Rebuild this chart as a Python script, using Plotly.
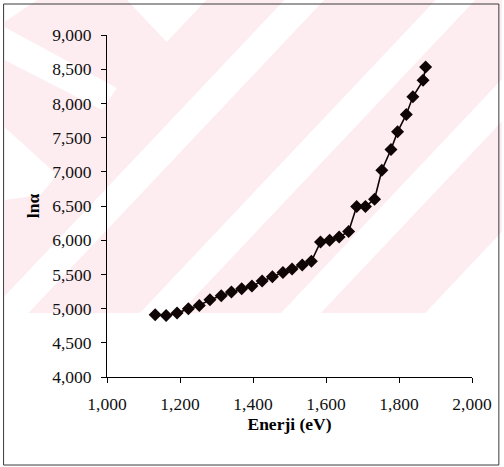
import plotly.graph_objects as go

# Data
energy = [1.132, 1.162, 1.192, 1.223, 1.253, 1.282, 1.313, 1.341, 1.369, 1.397,
          1.425, 1.453, 1.482, 1.507, 1.535, 1.560, 1.585, 1.610, 1.636, 1.662,
          1.684, 1.708, 1.733, 1.753, 1.778, 1.796, 1.820, 1.838, 1.866, 1.873]
ln_alpha = [4.911, 4.900, 4.934, 4.998, 5.047, 5.130, 5.189, 5.242, 5.291, 5.330,
            5.403, 5.467, 5.526, 5.578, 5.637, 5.691, 5.974, 5.999, 6.047, 6.126,
            6.492, 6.492, 6.599, 7.023, 7.326, 7.584, 7.839, 8.097, 8.337, 8.531]

x_ticks = [1.0, 1.2, 1.4, 1.6, 1.8, 2.0]
y_ticks = [4.0, 4.5, 5.0, 5.5, 6.0, 6.5, 7.0, 7.5, 8.0, 8.5, 9.0]

W, H = 504, 467
L, R, T, B = 107, 30, 35, 90
PW, PH = W - L - R, H - T - B


def px(x, y):
    return (x - L) / PW, (H - B - y) / PH


def path(points):
    parts = []
    for i, (x, y) in enumerate(points):
        xp, yp = px(x, y)
        parts.append(("M" if i == 0 else "L") + f"{xp:.4f},{yp:.4f}")
    return " ".join(parts) + " Z"


PINK = "rgb(253,236,240)"
shapes = []
# watermark background
shapes.append(dict(type="path", path=path([(4, 0), (504, 0), (504, 313), (4, 313)]),
                   xref="paper", yref="paper", fillcolor=PINK, line=dict(width=0), layer="below"))
s = 0.95
bw = 40
for a in [-12, 140, 282]:
    pts = [(a, 313), (a + bw, 313), (a + bw + 313 * s, 0), (a + 313 * s, 0)]
    shapes.append(dict(type="path", path=path(pts), xref="paper", yref="paper",
                       fillcolor="white", line=dict(width=0), layer="below"))
# bottom-right white region
shapes.append(dict(type="path", path=path([(427, 313), (520, 313), (520, 215)]),
                   xref="paper", yref="paper", fillcolor="white", line=dict(width=0), layer="below"))
# chevron pieces at upper left
shapes.append(dict(type="path", path=path([(127, 0), (207, 0), (167, 42)]),
                   xref="paper", yref="paper", fillcolor="white", line=dict(width=0), layer="below"))
shapes.append(dict(type="path", path=path([(4, 27), (117, 88), (102, 110), (4, 60)]),
                   xref="paper", yref="paper", fillcolor="white", line=dict(width=0), layer="below"))
shapes.append(dict(type="path", path=path([(4, 127), (57, 175), (40, 195), (4, 200)]),
                   xref="paper", yref="paper", fillcolor="white", line=dict(width=0), layer="below"))
shapes.append(dict(type="path", path=path([(4, 0), (37, 0), (4, 22)]),
                   xref="paper", yref="paper", fillcolor="white", line=dict(width=0), layer="below"))
# outer frame
x0, y0 = px(3, 4)
x1, y1 = px(501, 465)
shapes.append(dict(type="rect", xref="paper", yref="paper", x0=x0, y0=y1, x1=x1, y1=y0,
                   line=dict(color="#3a3a3a", width=1), fillcolor="rgba(0,0,0,0)", layer="above"))

fig = go.Figure()
fig.add_trace(go.Scatter(
    x=energy, y=ln_alpha, mode="lines+markers",
    line=dict(color="#100505", width=1.6),
    marker=dict(symbol="diamond", size=10, color="#100505"),
    showlegend=False, cliponaxis=False,
))

font_family = "Liberation Serif"
fig.update_layout(
    width=W, height=H,
    margin=dict(l=L, r=R, t=T, b=B),
    paper_bgcolor="white", plot_bgcolor="rgba(0,0,0,0)",
    separators=", ",
    font=dict(family=font_family, size=17.5, color="black"),
    shapes=shapes,
    xaxis=dict(
        range=[1.0, 2.0], tickvals=x_ticks, tickformat=".3f",
        showline=True, linecolor="black", linewidth=1,
        ticks="outside", ticklen=5, tickcolor="black", tickwidth=1,
        tickfont=dict(family=font_family, size=17.5, color="#111"),
        showgrid=False, zeroline=False, ticklabelstandoff=6,
        title=dict(text="<b>Enerji (eV)</b>", font=dict(family=font_family, size=17.5), standoff=4),
    ),
    yaxis=dict(
        range=[4.0, 9.0], tickvals=y_ticks, tickformat=".3f",
        showline=True, linecolor="black", linewidth=1,
        ticks="outside", ticklen=5, tickcolor="black", tickwidth=1,
        tickfont=dict(family=font_family, size=17.5, color="#111"),
        showgrid=False, zeroline=False, ticklabelstandoff=6,
        title=dict(text="<b>lnα</b>", font=dict(family=font_family, size=17.5), standoff=8),
    ),
)

fig.write_html("out.html")
